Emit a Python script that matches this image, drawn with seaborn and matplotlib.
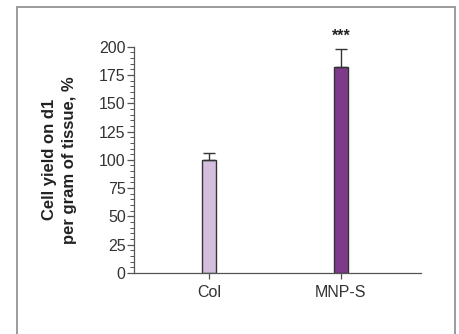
import numpy as np
import pandas as pd
import seaborn as sns
import matplotlib.pyplot as plt
from matplotlib.patches import Rectangle
from matplotlib.ticker import MultipleLocator

groups = ["Col", "MNP-S"]
yield_pct = [100, 182]
err_up = [6, 16]
bar_colors = ["#d4bedd", "#7f3b8b"]

df = pd.DataFrame({"group": groups, "value": yield_pct})

sns.set_style("ticks")
plt.rcParams["font.family"] = ["Liberation Sans", "DejaVu Sans"]

fig = plt.figure(figsize=(4.59, 3.34), dpi=100)
ax = fig.add_axes([0.292, 0.183, 0.625, 0.677])

# outer frame around the panel
fig.patches.append(Rectangle((0.037, -0.1), 0.954, 1.079, transform=fig.transFigure,
                             fill=False, edgecolor="#8a8a8a", linewidth=1.2))

sns.barplot(data=df, x="group", y="value", hue="group", palette=bar_colors,
            width=0.106, saturation=1, edgecolor="#333333", linewidth=1.0,
            legend=False, ax=ax)

# upper error bars only
ax.errorbar(np.arange(len(groups)), yield_pct, yerr=[[0, 0], err_up], fmt="none",
            ecolor="#333333", elinewidth=1.0, capsize=4, capthick=1.0)

ax.text(1, 203, "***", ha="center", va="bottom", fontsize=11.5, fontweight="bold",
        color="#222222", clip_on=False)

ax.set_ylim(0, 200)
ax.set_xlim(-0.568, 1.606)
ax.yaxis.set_major_locator(MultipleLocator(25))
ax.yaxis.set_minor_locator(MultipleLocator(5))
ax.tick_params(axis="y", which="major", length=5, width=0.9, color="#555555",
               labelsize=11.5, labelcolor="#333333", pad=1)
ax.tick_params(axis="y", which="minor", length=3, width=0.7, color="#555555")
ax.tick_params(axis="x", length=4, width=0.9, color="#555555", labelsize=11.5,
               labelcolor="#333333", pad=5)

sns.despine(ax=ax)
for s in ["left", "bottom"]:
    ax.spines[s].set_color("#555555")
    ax.spines[s].set_linewidth(0.9)

ax.set_xlabel("")
ax.set_ylabel("Cell yield on d1\nper gram of tissue, %", fontsize=12,
              fontweight="bold", color="#222222", labelpad=16, linespacing=1.4)

fig.savefig("out.png", dpi=100)
